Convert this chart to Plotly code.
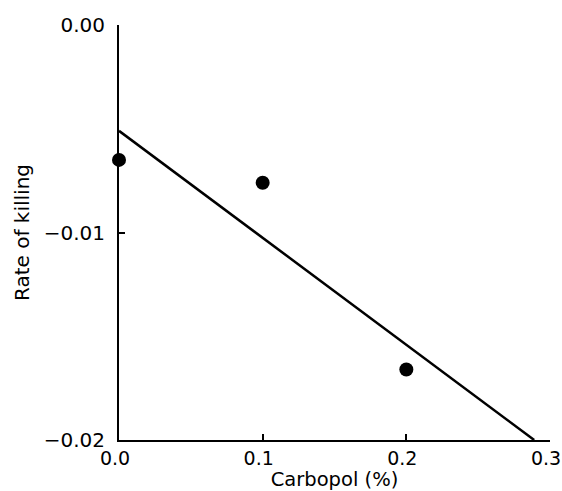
import plotly.graph_objects as go

# Data
carbopol = [0.0, 0.1, 0.2]
rate = [-0.0065, -0.0076, -0.0166]
fit_x = [0.0, 0.289]
fit_y = [-0.0051, -0.0200]
x_ticks = [0.0, 0.1, 0.2, 0.3]
y_ticks = [0.00, -0.01, -0.02]

fig = go.Figure()
fig.add_trace(go.Scatter(
    x=fit_x, y=fit_y, mode="lines",
    line=dict(color="black", width=2.5),
    cliponaxis=False, hoverinfo="skip"))
fig.add_trace(go.Scatter(
    x=carbopol, y=rate, mode="markers",
    marker=dict(color="black", size=14, symbol="circle"),
    cliponaxis=False))

axis_common = dict(
    showline=True, linecolor="black", linewidth=2,
    ticks="inside", ticklen=6, tickwidth=2, tickcolor="black",
    showgrid=False, zeroline=False, mirror=False,
    automargin=False, ticklabeloverflow="allow",
)

fig.update_layout(
    width=562, height=491, autosize=False,
    margin=dict(l=119, r=12, t=25, b=51),
    paper_bgcolor="white", plot_bgcolor="white",
    showlegend=False,
    font=dict(family="DejaVu Sans", size=19, color="black"),
    xaxis=dict(range=[0, 0.3], tickvals=x_ticks, tickformat=".1f",
               ticklabelshift=-4,
               tickfont=dict(family="DejaVu Sans", size=19, color="black"),
               title=dict(text="Carbopol (%)", standoff=4,
                          font=dict(size=19.5)),
               **axis_common),
    yaxis=dict(range=[-0.02, 0], tickvals=y_ticks, tickformat=".2f",
               ticklabelstandoff=8,
               tickfont=dict(family="DejaVu Sans", size=20, color="black"),
               title=dict(text="Rate of killing", standoff=9,
                          font=dict(size=20)),
               **axis_common),
)

fig.write_html(
    "out.html",
    config={"responsive": False, "displayModeBar": False},
    post_script="document.body.style.margin='0';"
                "document.body.style.overflow='hidden';",
)
